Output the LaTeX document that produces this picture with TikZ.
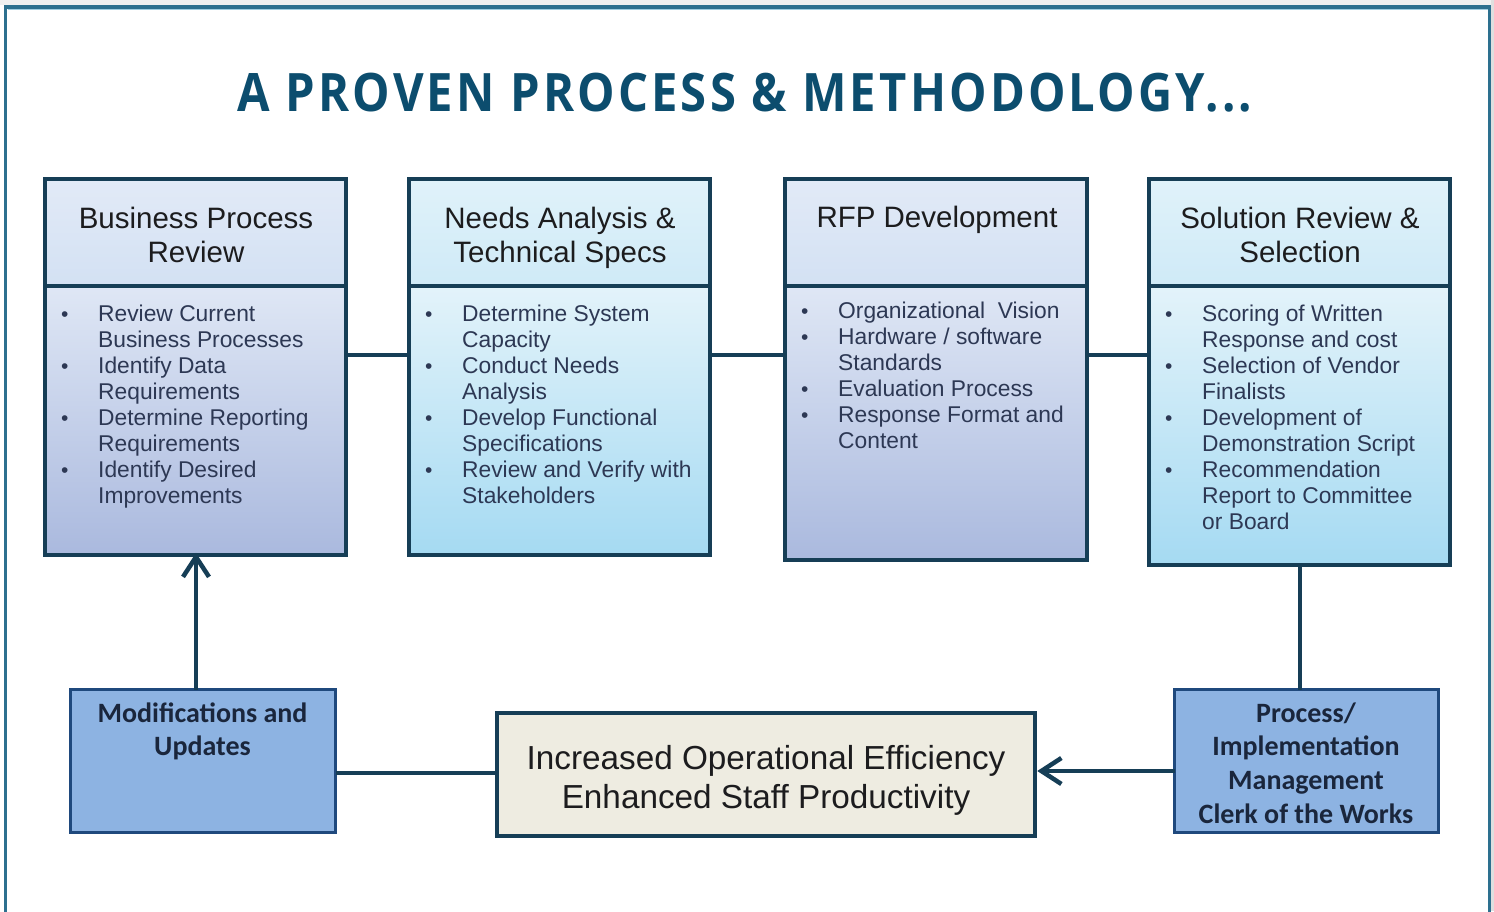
\documentclass[tikz,border=0pt]{standalone}
\usepackage{fontspec}
\setmainfont{Liberation Sans}
\newfontfamily\titlefont[LetterSpace=6,FakeStretch=0.89]{Open Sans}
\newfontfamily\calfont{Carlito}
\usetikzlibrary{arrows.meta}
\definecolor{framec}{RGB}{45,112,143}
\definecolor{framelt}{RGB}{160,205,224}
\definecolor{titlec}{RGB}{12,77,110}
\definecolor{boxline}{RGB}{22,62,86}
\definecolor{lavtop}{RGB}{223,231,245}
\definecolor{lavbot}{RGB}{170,185,222}
\definecolor{cyantop}{RGB}{227,243,250}
\definecolor{cyanbot}{RGB}{165,218,242}
\definecolor{hlavtop}{RGB}{226,234,247}
\definecolor{hlavbot}{RGB}{211,225,243}
\definecolor{hcyantop}{RGB}{224,242,250}
\definecolor{hcyanbot}{RGB}{207,234,247}
\definecolor{midblue}{RGB}{141,179,226}
\definecolor{midline}{RGB}{31,73,125}
\definecolor{beige}{RGB}{238,236,225}
\definecolor{hdrtext}{RGB}{28,28,30}
\definecolor{bodytext}{RGB}{45,56,84}
\definecolor{boxtext}{RGB}{26,38,60}
\tikzset{
  part/.style={draw=boxline, line width=4.5pt, rectangle, inner sep=0pt, outer sep=0pt, anchor=north west},
  lav/.style={top color=lavtop, bottom color=lavbot},
  cyan/.style={top color=cyantop, bottom color=cyanbot},
  hlav/.style={top color=hlavtop, bottom color=hlavbot},
  hcyan/.style={top color=hcyantop, bottom color=hcyanbot},
  smallbox/.style={draw=midline, fill=midblue, line width=3.2pt, rectangle, inner sep=0pt, outer sep=0pt, anchor=north west},
  centbox/.style={draw=boxline, fill=beige, line width=4.5pt, rectangle, inner sep=0pt, outer sep=0pt, anchor=north west},
  hdrtxt/.style={inner sep=0pt, anchor=base, text=hdrtext, font=\fontsize{29.5}{34}\selectfont},
  bodytxt/.style={inner sep=0pt, anchor=base west, text=bodytext, font=\fontsize{22.8}{26}\selectfont},
  boxtxt/.style={inner sep=0pt, anchor=base, text=boxtext, font=\calfont\bfseries\fontsize{28}{33.7}\selectfont},
  conn/.style={draw=boxline, line width=4.5pt},
  arr/.style={-{Straight Barb[length=20pt,width=26pt]}}
}
\newcommand{\bul}{{\fontsize{21}{26}\selectfont\textbullet}}
\begin{document}
\begin{tikzpicture}[x=1pt,y=-1pt]
\useasboundingbox (0,0) rectangle (1494,911);
\clip (0,0) rectangle (1494,911);
% background
\fill[white] (0,0) rectangle (1494,911);
\fill[gray!12] (0,0) rectangle (1494,5);
\fill[gray!25] (1491,0) rectangle (1494,911);
% frame
\draw[framelt, line width=1pt] (7.5,9.8) -- (1487.5,9.8);
\draw[framec, line width=3.6pt] (5.5,915) -- (5.5,7) -- (1489.5,7) -- (1489.5,915);
% title
\node[inner sep=0pt, anchor=base, text=titlec, font=\titlefont\bfseries\fontsize{53}{60}\selectfont] (title) at (745,111) {A PROVEN PROCESS \& METHODOLOGY...};
% top boxes
\node[part, hlav, minimum width=301pt, minimum height=107pt] (h1) at (45,179) {};
\node[part, lav, minimum width=301pt, minimum height=269pt] (b1) at (45,286) {};
\node[part, hcyan, minimum width=301pt, minimum height=107pt] (h2) at (409,179) {};
\node[part, cyan, minimum width=301pt, minimum height=269pt] (b2) at (409,286) {};
\node[part, hlav, minimum width=302pt, minimum height=107pt] (h3) at (785,179) {};
\node[part, lav, minimum width=302pt, minimum height=274pt] (b3) at (785,286) {};
\node[part, hcyan, minimum width=301pt, minimum height=107pt] (h4) at (1149,179) {};
\node[part, cyan, minimum width=301pt, minimum height=279pt] (b4) at (1149,286) {};
% header texts
\node[hdrtxt] (t1) at (196,228) {\begin{tabular}[t]{@{}c@{}}Business Process\\Review\end{tabular}};
\node[hdrtxt] (t2) at (560,228) {\begin{tabular}[t]{@{}c@{}}Needs Analysis \&\\Technical Specs\end{tabular}};
\node[hdrtxt] (t3) at (937,227) {\begin{tabular}[t]{@{}c@{}}RFP Development\end{tabular}};
\node[hdrtxt] (t4) at (1300,228) {\begin{tabular}[t]{@{}c@{}}Solution Review \&\\Selection\end{tabular}};
% body texts
\node[bodytxt] (l1) at (61,321) {\begin{tabular}[t]{@{}p{37pt}@{}l@{}}
\bul & Review Current\\
 & Business Processes\\
\bul & Identify Data\\
 & Requirements\\
\bul & Determine Reporting\\
 & Requirements\\
\bul & Identify Desired\\
 & Improvements
\end{tabular}};
\node[bodytxt] (l2) at (425,321) {\begin{tabular}[t]{@{}p{37pt}@{}l@{}}
\bul & Determine System\\
 & Capacity\\
\bul & Conduct Needs\\
 & Analysis\\
\bul & Develop Functional\\
 & Specifications\\
\bul & Review and Verify with\\
 & Stakeholders
\end{tabular}};
\node[bodytxt] (l3) at (801,318) {\begin{tabular}[t]{@{}p{37pt}@{}l@{}}
\bul & Organizational\ \ Vision\\
\bul & Hardware / software\\
 & Standards\\
\bul & Evaluation Process\\
\bul & Response Format and\\
 & Content
\end{tabular}};
\node[bodytxt] (l4) at (1165,321) {\begin{tabular}[t]{@{}p{37pt}@{}l@{}}
\bul & Scoring of Written\\
 & Response and cost\\
\bul & Selection of Vendor\\
 & Finalists\\
\bul & Development of\\
 & Demonstration Script\\
\bul & Recommendation\\
 & Report to Committee\\
 & or Board
\end{tabular}};
% bottom boxes
\node[smallbox, minimum width=265pt, minimum height=143pt] (mod) at (70.5,689.5) {};
\node[boxtxt] (modt) at (202.5,722) {\begin{tabular}[t]{@{}c@{}}Modifications and\\Updates\end{tabular}};
\node[smallbox, minimum width=264pt, minimum height=143pt] (proc) at (1174.5,689.5) {};
\node[boxtxt] (proct) at (1306,722) {\begin{tabular}[t]{@{}c@{}}Process/\\Implementation\\Management\\Clerk of the Works\end{tabular}};
\node[centbox, minimum width=538pt, minimum height=123pt] (cent) at (497,713) {};
\node[inner sep=0pt, anchor=base, text=hdrtext, font=\fontsize{33.3}{39}\selectfont] (centt) at (766,769) {\begin{tabular}[t]{@{}c@{}}Increased Operational Efficiency\\Enhanced Staff Productivity\end{tabular}};
% connectors
\coordinate (row) at (0,355);
\coordinate (arow) at (0,771);
\coordinate (lrow) at (0,773);
\coordinate (upx) at (196,0);
\coordinate (dnx) at (1300,0);
\draw[conn] (b1.east |- row) -- (b2.west |- row);
\draw[conn] (b2.east |- row) -- (b3.west |- row);
\draw[conn] (b3.east |- row) -- (b4.west |- row);
\draw[conn] (b4.south -| dnx) -- (proc.north -| dnx);
\draw[conn, arr] (proc.west |- arow) -- ([xshift=2.25pt]cent.east |- arow);
\draw[conn] (cent.west |- lrow) -- (mod.east |- lrow);
\draw[conn, arr] (mod.north -| upx) -- ([yshift=2.25pt]b1.south -| upx);
\end{tikzpicture}
\end{document}
